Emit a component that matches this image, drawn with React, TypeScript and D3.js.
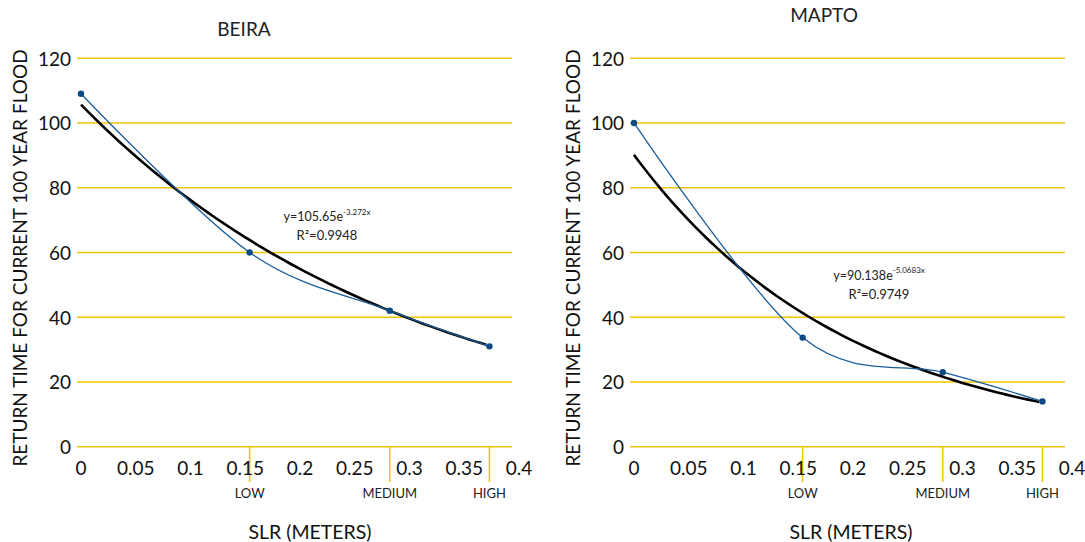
import React from "react";
import * as d3 from "d3";

const slrLevels = ["LOW", "MEDIUM", "HIGH"];
const slrValues = [0, 0.154, 0.282, 0.373];
const beiraReturn = [109, 60, 42, 31];
const maptoReturn = [100, 33.7, 23, 14];
const xTickValues = [0, 0.05, 0.1, 0.15, 0.2, 0.25, 0.3, 0.35, 0.4];
const yTickValues = [0, 20, 40, 60, 80, 100, 120];
const beiraFit = { a: 105.65, b: -3.272, r2: "0.9948", label: "105.65", exp: "-3.272x" };
const maptoFit = { a: 90.138, b: -5.0683, r2: "0.9749", label: "90.138", exp: "-5.0683x" };

const FONT = "Lato, 'Open Sans', sans-serif";
const GRID = "#F2C400";
const BLUE = "#1B5E9C";
const DOT = "#0B4A86";

type PanelProps = {
  title: string;
  values: number[];
  fit: typeof beiraFit;
  dx: number;
  titleX: number;
  titleY: number;
  xTitleX: number;
  eqX: number;
  eqY: number;
};

function Panel({ title, values, fit, dx, titleX, titleY, xTitleX, eqX, eqY }: PanelProps) {
  const x = d3.scaleLinear().domain([0, 0.4]).range([81 + dx, 519 + dx]);
  const y = d3.scaleLinear().domain([0, 120]).range([446.7, 58.2]);
  const gridL = 77 + dx;
  const gridR = 512 + dx;
  const pts: [number, number][] = slrValues.map((v, i) => [x(v), y(values[i])]);
  const line = d3.line().curve(d3.curveCardinal.tension(0));
  const trendXs = d3.range(0, slrValues[slrValues.length - 1] + 1e-9, 0.005);
  const trendPts: [number, number][] = trendXs.map((t) => [x(t), y(fit.a * Math.exp(fit.b * t))]);
  const trendLine = d3.line();
  return (
    <g>
      <text x={titleX} y={titleY} textAnchor="middle" dominantBaseline="central" fontSize={19} fill="#222">
        {title}
      </text>
      {yTickValues.map((t) => (
        <g key={t}>
          <line x1={gridL} x2={gridR} y1={y(t)} y2={y(t)} stroke={GRID} strokeWidth={1.5} />
          <text x={71 + dx} y={y(t)} textAnchor="end" dominantBaseline="central" fontSize={19} fill="#111">
            {t}
          </text>
        </g>
      ))}
      {slrValues.slice(1).map((v, i) => (
        <g key={slrLevels[i]}>
          <line x1={x(v)} x2={x(v)} y1={y(0)} y2={482} stroke={GRID} strokeWidth={1.5} />
          <text x={x(v)} y={492.5} textAnchor="middle" dominantBaseline="central" fontSize={13} fill="#222">
            {slrLevels[i]}
          </text>
        </g>
      ))}
      {xTickValues.map((t) => (
        <text key={t} x={x(t)} y={467.5} textAnchor="middle" dominantBaseline="central" fontSize={19} fill="#111">
          {String(t)}
        </text>
      ))}
      <text
        transform={`translate(${19 + dx},258) rotate(-90)`}
        textAnchor="middle"
        dominantBaseline="central"
        fontSize={19}
        fill="#111"
      >
        RETURN TIME FOR CURRENT 100 YEAR FLOOD
      </text>
      <text x={xTitleX} y={531} textAnchor="middle" dominantBaseline="central" fontSize={19.5} fill="#111">
        SLR (METERS)
      </text>
      <path d={trendLine(trendPts) || ""} fill="none" stroke="#000" strokeWidth={2.6} />
      <path d={line(pts) || ""} fill="none" stroke={BLUE} strokeWidth={1.3} />
      {pts.map((p, i) => (
        <circle key={i} cx={p[0]} cy={p[1]} r={3.2} fill={DOT} />
      ))}
      <text x={eqX} y={eqY} textAnchor="middle" dominantBaseline="central" fontSize={12.5} fill="#222">
        y={fit.label}e
        <tspan fontSize={8} dy={-5}>
          {fit.exp}
        </tspan>
      </text>
      <text x={eqX} y={eqY + 18.5} textAnchor="middle" dominantBaseline="central" fontSize={13} fill="#222">
        R²={fit.r2}
      </text>
    </g>
  );
}

export default function App() {
  return (
    <svg
      width={1085}
      height={542}
      style={{ position: "absolute", left: 0, top: 0, background: "#fff", fontFamily: FONT }}
    >
      <rect width={1085} height={542} fill="#fff" />
      <Panel
        title="BEIRA"
        values={beiraReturn}
        fit={beiraFit}
        dx={0}
        titleX={244}
        titleY={28}
        xTitleX={310}
        eqX={327}
        eqY={216.5}
      />
      <Panel
        title="MAPTO"
        values={maptoReturn}
        fit={maptoFit}
        dx={553}
        titleX={824}
        titleY={14}
        xTitleX={851}
        eqX={879}
        eqY={275}
      />
    </svg>
  );
}
